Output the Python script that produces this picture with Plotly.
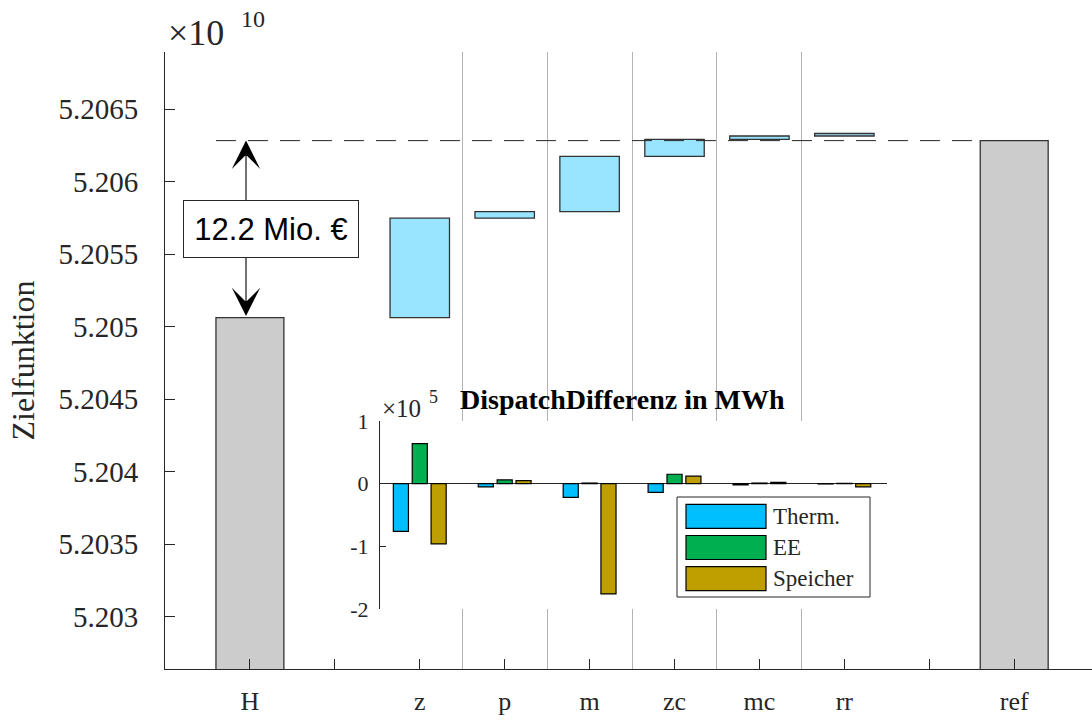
import plotly.graph_objects as go

# ---- data -------------------------------------------------------------
# objective function (units of 1e10 €)
stages = ["H", "", "z", "p", "m", "zc", "mc", "rr", "", "ref"]
stage_pos = [1, 2, 3, 4, 5, 6, 7, 8, 9, 10]
objective_H = 5.205063
objective_ref = 5.206283

# waterfall steps (Mio. €)
step_names = ["z", "p", "m", "zc", "mc", "rr"]
step_pos = [3, 4, 5, 6, 7, 8]
step_delta_mio = [6.85, 0.45, 3.82, 1.16, 0.24, 0.17]

# dispatch differences per step (units of 1e5 MWh)
series_names = ["Therm.", "EE", "Speicher"]
therm = [-0.76, -0.05, -0.22, -0.14, -0.02, -0.005]
ee = [0.64, 0.06, 0.01, 0.15, 0.01, 0.005]
speicher = [-0.96, 0.05, -1.76, 0.12, 0.02, -0.05]

y_tickvals = [5.203, 5.2035, 5.204, 5.2045, 5.205, 5.2055, 5.206, 5.2065]
y_ticktext = ["5.203", "5.2035", "5.204", "5.2045", "5.205", "5.2055", "5.206", "5.2065"]
inset_tickvals = [-2, -1, 0, 1]
inset_ticktext = ["-2", "-1", "0", "1"]

# ---- styling ----------------------------------------------------------
SERIF = "Liberation Serif"
SANS = "Liberation Sans"
INK = "#262626"
EDGE = "#333333"
STEP_FILL = "#99E5FF"
TOTAL_FILL = "#CCCCCC"
series_colors = ["#00BFFF", "#00B050", "#BF9F00"]

W, H = 1092, 720
ML, MR, MT, MB = 165, 0, 52, 51
PW, PH = W - ML - MR, H - MT - MB
X_RANGE = [0, 10.916]
Y_RANGE = [5.20264, 5.206894]


def px(x):
    return (x - ML) / PW


def py(y):
    return (H - MB - y) / PH


fig = go.Figure()

# totals (H and ref)
fig.add_trace(go.Bar(
    x=[stage_pos[0], stage_pos[-1]], y=[objective_H, objective_ref],
    width=0.8, offset=-0.4,
    marker=dict(color=TOTAL_FILL, line=dict(color=EDGE, width=1.3)),
    showlegend=False, xaxis="x", yaxis="y",
))

# waterfall steps
deltas = [d / 1e4 for d in step_delta_mio]
bases = []
acc = objective_H
for d in deltas:
    bases.append(acc)
    acc += d
fig.add_trace(go.Bar(
    x=step_pos, y=deltas, base=bases,
    width=0.7, offset=-0.35,
    marker=dict(color=STEP_FILL, line=dict(color=EDGE, width=1.3)),
    showlegend=False, xaxis="x", yaxis="y",
))

# inset grouped bars
for name, vals, col in zip(series_names, [therm, ee, speicher], series_colors):
    fig.add_trace(go.Bar(
        x=step_pos, y=vals, name=name,
        marker=dict(color=col, line=dict(color="#000000", width=1.2)),
        showlegend=False, xaxis="x2", yaxis="y2",
    ))

# separators between the step categories
separators = [(a + b) / 2 for a, b in zip(step_pos[:-1], step_pos[1:])]

fig.update_layout(
    width=W, height=H,
    margin=dict(l=ML, r=MR, t=MT, b=MB, pad=0),
    paper_bgcolor="white", plot_bgcolor="white",
    barmode="group", bargap=1 / 3, bargroupgap=0.2,
    font=dict(family=SERIF, color=INK),
    xaxis=dict(
        domain=[0, 1], range=X_RANGE, automargin=False,
        tickmode="array", tickvals=stage_pos, ticktext=stages,
        ticks="inside", ticklen=10, tickwidth=1, tickcolor=INK,
        showline=True, linecolor=INK, linewidth=1,
        showgrid=False, zeroline=False,
        tickfont=dict(family=SERIF, size=26, color=INK),
        ticklabelstandoff=9,
        minor=dict(tickmode="array", tickvals=separators, showgrid=True,
                   gridcolor="#B3B3B3", gridwidth=1, ticks=""),
    ),
    yaxis=dict(
        domain=[0, 1], range=Y_RANGE, automargin=False,
        tickmode="array", tickvals=y_tickvals, ticktext=y_ticktext,
        ticks="inside", ticklen=10, tickwidth=1, tickcolor=INK,
        showline=True, linecolor=INK, linewidth=1,
        showgrid=False, zeroline=False,
        tickfont=dict(family=SERIF, size=29, color=INK),
        ticklabelstandoff=20,
        title=dict(text="Zielfunktion", font=dict(family=SERIF, size=32, color=INK), standoff=14),
    ),
    xaxis2=dict(
        domain=[px(380), px(887)], range=[(380 - ML) / PW * X_RANGE[1], (887 - ML) / PW * X_RANGE[1]],
        anchor="y2", visible=False,
    ),
    yaxis2=dict(
        domain=[py(609), py(421)], range=[-2, 1], anchor="x2",
        tickmode="array", tickvals=inset_tickvals, ticktext=inset_ticktext,
        ticks="inside", ticklen=6, tickwidth=1, tickcolor=INK,
        showline=True, linecolor=INK, linewidth=1,
        showgrid=False, zeroline=True, zerolinecolor=INK, zerolinewidth=1,
        tickfont=dict(family=SERIF, size=22, color=INK),
        ticklabelstandoff=6,
    ),
    showlegend=False,
)

# reference level (dashed)
fig.add_shape(type="line", xref="x", yref="y",
              x0=stage_pos[0] - 0.4, x1=stage_pos[-1] - 0.4,
              y0=objective_ref, y1=objective_ref,
              line=dict(color=INK, width=1, dash="20px,12px"))

# double arrow between H and ref
arrow_x = 0.954
fig.add_annotation(x=arrow_x, y=objective_ref, ax=arrow_x, ay=objective_H,
                   xref="x", yref="y", axref="x", ayref="y",
                   text="", showarrow=True, arrowside="end+start",
                   arrowhead=3, startarrowhead=3, arrowsize=4.3, startarrowsize=4.3,
                   arrowwidth=1.1, arrowcolor="#000000")
gap_mio = (objective_ref - objective_H) * 1e4
fig.add_annotation(x=1.248, y=(objective_H + objective_ref) / 2, xref="x", yref="y",
                   text=f"{gap_mio:.1f} Mio. €", showarrow=False,
                   font=dict(family=SANS, size=31, color="#000000"),
                   bgcolor="white", bordercolor=INK, borderwidth=1, borderpad=0,
                   width=174, height=56)

# exponent labels
fig.add_annotation(x=px(166), y=py(33), xref="paper", yref="paper", xanchor="left", yanchor="middle",
                   text="×10", showarrow=False, font=dict(family=SERIF, size=36, color=INK))
fig.add_annotation(x=px(239), y=py(19), xref="paper", yref="paper", xanchor="left", yanchor="middle",
                   text="10", showarrow=False, font=dict(family=SERIF, size=24, color=INK))
fig.add_annotation(x=px(380), y=py(408), xref="paper", yref="paper", xanchor="left", yanchor="middle",
                   text="×10", showarrow=False, font=dict(family=SERIF, size=25, color=INK))
fig.add_annotation(x=px(427), y=py(397), xref="paper", yref="paper", xanchor="left", yanchor="middle",
                   text="5", showarrow=False, font=dict(family=SERIF, size=18, color=INK))

# inset title
fig.add_annotation(x=px(622), y=py(400), xref="paper", yref="paper", xanchor="center", yanchor="middle",
                   text="<b>DispatchDifferenz in MWh</b>", showarrow=False,
                   font=dict(family=SERIF, size=28, color="#000000"))

# inset legend
fig.add_shape(type="rect", xref="paper", yref="paper",
              x0=px(677), x1=px(870), y0=py(597), y1=py(497),
              fillcolor="white", line=dict(color=INK, width=1), layer="above")
for i, (name, col) in enumerate(zip(series_names, series_colors)):
    top = 504.3 + i * 31.2
    fig.add_shape(type="rect", xref="paper", yref="paper",
                  x0=px(686), x1=px(766), y0=py(top + 24), y1=py(top),
                  fillcolor=col, line=dict(color="#000000", width=1.2), layer="above")
    fig.add_annotation(x=px(771), y=py(top + 12), xref="paper", yref="paper",
                       xanchor="left", yanchor="middle", text=name, showarrow=False,
                       font=dict(family=SERIF, size=23, color=INK))

fig.write_html("out.html")
